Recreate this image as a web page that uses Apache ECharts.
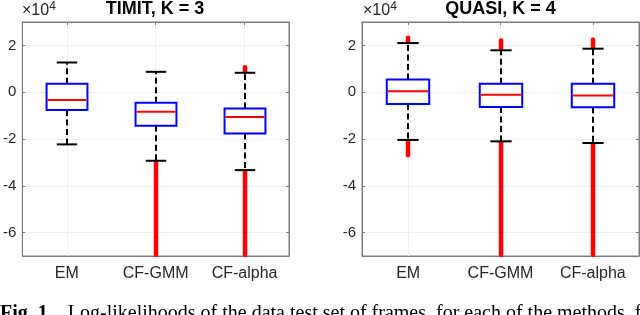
<!DOCTYPE html>
<html>
<head>
<meta charset="utf-8">
<script src="https://cdn.jsdelivr.net/npm/echarts@6/dist/echarts.min.js"></script>
<style>
html,body{margin:0;padding:0;background:#fff;}
#chart{width:640px;height:315px;}
</style>
</head>
<body>
<div id="chart"></div>
<script>
// ---- data (values in units of 1e4) ----
const categories = ['EM', 'CF-GMM', 'CF-alpha'];
const yTicks = [-6, -4, -2, 0, 2];
const yMin = -7, yMax = 3;
const titles = ['TIMIT, K = 3', 'QUASI, K = 4'];
// [lowerWhisker, Q1, median, Q3, upperWhisker]
const timitBox = [
  [-2.23, -0.76, -0.33, 0.36, 1.27],
  [-2.93, -1.43, -0.84, -0.45, 0.87],
  [-3.33, -1.77, -1.06, -0.70, 0.83]
];
const quasiBox = [
  [-2.04, -0.50, 0.04, 0.54, 2.10],
  [-2.10, -0.63, -0.11, 0.36, 1.79],
  [-2.17, -0.64, -0.14, 0.36, 1.86]
];
// outlier bands [categoryIndex, low, high]
const timitOutliers = [
  [1, -7, -2.93],
  [2, -7, -3.33],
  [2, 0.83, 1.12]
];
const quasiOutliers = [
  [0, -2.75, -2.04],
  [0, 2.10, 2.38],
  [1, -7, -2.10],
  [1, 1.79, 2.26],
  [2, -7, -2.17],
  [2, 1.86, 2.30]
];
const caption = 'Log-likelihoods of the data test set of frames, for each of the methods, formed';

// ---- chart ----
const chart = echarts.init(document.getElementById('chart'), null, {renderer: 'canvas'});
const frame = '#7a7a7a';
const textColor = '#262626';
const gridLayout = [
  {left: 21, top: 22, width: 268, height: 234},
  {left: 362, top: 22, width: 277, height: 234}
];

function boxRender(params, api) {
  const x = api.value(0);
  const pMin = api.coord([x, api.value(1)]);
  const pQ1 = api.coord([x, api.value(2)]);
  const pMed = api.coord([x, api.value(3)]);
  const pQ3 = api.coord([x, api.value(4)]);
  const pMax = api.coord([x, api.value(5)]);
  const bw = api.size([1, 0])[0] * 0.46;
  const cx = Math.round(pMed[0]);
  const cw = bw * 0.25;
  const dashStyle = {stroke: '#000', lineWidth: 2, lineDash: [6, 3.5], fill: null};
  const solid = {stroke: '#000', lineWidth: 2, fill: null};
  return {
    type: 'group',
    children: [
      {type: 'line', shape: {x1: cx, y1: pQ3[1], x2: cx, y2: pMax[1]}, style: dashStyle},
      {type: 'line', shape: {x1: cx, y1: pQ1[1], x2: cx, y2: pMin[1]}, style: dashStyle},
      {type: 'line', shape: {x1: cx - cw, y1: pMax[1], x2: cx + cw, y2: pMax[1]}, style: solid},
      {type: 'line', shape: {x1: cx - cw, y1: pMin[1], x2: cx + cw, y2: pMin[1]}, style: solid},
      {type: 'rect', shape: {x: cx - bw / 2, y: pQ3[1], width: bw, height: pQ1[1] - pQ3[1]},
        style: {stroke: '#0000ff', lineWidth: 2, fill: '#fff'}},
      {type: 'line', shape: {x1: cx - bw / 2 + 1, y1: pMed[1], x2: cx + bw / 2 - 1, y2: pMed[1]},
        style: {stroke: '#ff0000', lineWidth: 2, fill: null}}
    ]
  };
}

function outlierRender(params, api) {
  const x = api.value(0);
  const lo = api.coord([x, api.value(1)]);
  const hi = api.coord([x, api.value(2)]);
  const w = 4.5;
  const cx = Math.round(lo[0]);
  return {
    type: 'rect',
    shape: {x: cx - w / 2, y: hi[1] - 1, width: w, height: lo[1] - hi[1] + 2, r: 2},
    style: {fill: '#ff0000'}
  };
}

const xAxes = [], yAxes = [], series = [], graphics = [];
[timitBox, quasiBox].forEach((boxes, gi) => {
  const outl = gi === 0 ? timitOutliers : quasiOutliers;
  xAxes.push({
    type: 'category', gridIndex: gi, data: categories, position: 'bottom', boundaryGap: true,
    axisLine: {onZero: false, lineStyle: {color: frame, width: 1}},
    axisTick: {inside: true, length: 3, alignWithLabel: true, lineStyle: {color: frame}},
    axisLabel: {color: textColor, fontSize: 16, fontFamily: 'Liberation Sans, Arial', margin: 10},
    splitLine: {show: false}
  });
  xAxes.push({
    type: 'category', gridIndex: gi, data: categories, position: 'top', boundaryGap: true,
    axisLine: {show: true, onZero: false, lineStyle: {color: frame, width: 1}},
    axisTick: {show: true, inside: true, length: 3, alignWithLabel: true, lineStyle: {color: frame}},
    axisLabel: {show: false}, splitLine: {show: false}
  });
  yAxes.push({
    type: 'value', gridIndex: gi, min: yMin, max: yMax, position: 'left',
    axisLine: {show: true, onZero: false, lineStyle: {color: frame, width: 1}},
    axisTick: {show: true, inside: true, length: 3, customValues: yTicks, lineStyle: {color: frame}},
    axisLabel: {color: textColor, fontSize: 15, fontFamily: 'Liberation Sans, Arial', margin: 6, customValues: yTicks},
    splitLine: {show: false}
  });
  yAxes.push({
    type: 'value', gridIndex: gi, min: yMin, max: yMax, position: 'right',
    axisLine: {show: true, onZero: false, lineStyle: {color: frame, width: 1}},
    axisTick: {show: true, inside: true, length: 3, customValues: yTicks, lineStyle: {color: frame}},
    axisLabel: {show: false}, splitLine: {show: false}
  });
  // faint grid lines
  series.push({
    type: 'line', xAxisIndex: gi * 2, yAxisIndex: gi * 2, data: [], silent: true, z: 0,
    markLine: {
      silent: true, symbol: 'none', label: {show: false}, animation: false, z: 0,
      lineStyle: {color: '#efefef', width: 1, type: 'solid'},
      data: yTicks.map(v => ({yAxis: v})).concat(categories.map(c => ({xAxis: c})))
    }
  });
  series.push({
    type: 'custom', xAxisIndex: gi * 2, yAxisIndex: gi * 2, z: 2,
    renderItem: outlierRender,
    data: outl,
    encode: {x: 0, y: [1, 2]}
  });
  series.push({
    type: 'custom', xAxisIndex: gi * 2, yAxisIndex: gi * 2, z: 3,
    renderItem: boxRender,
    data: boxes.map((b, i) => [i].concat(b)),
    encode: {x: 0, y: [1, 2, 3, 4, 5]}
  });
  const g = gridLayout[gi];
  graphics.push({
    type: 'text', x: g.left + g.width / 2, y: 0,
    style: {text: titles[gi], font: 'bold 18px "Liberation Sans", Arial', fill: '#000', align: 'center'}
  });
  graphics.push({
    type: 'text', x: g.left + 1, y: 1,
    style: {
      text: '×10{s|4}', fill: textColor,
      font: '16px "Liberation Sans", Arial',
      rich: {s: {fontSize: 12, verticalAlign: 'top', padding: [0, 0, 8, 0], fill: textColor}}
    }
  });
});
graphics.push({
  type: 'text', x: 0, y: 304,
  style: {
    text: '{b|Fig. 1.}   ' + caption,
    font: '20px "Liberation Serif", "Times New Roman"', fill: '#000',
    rich: {b: {fontWeight: 'bold', fontSize: 20, fontFamily: 'Liberation Serif'}}
  }
});

chart.setOption({
  animation: false,
  backgroundColor: '#fff',
  grid: gridLayout.map(g => Object.assign({show: true, borderColor: frame, borderWidth: 1, backgroundColor: 'transparent', containLabel: false}, g)),
  xAxis: xAxes,
  yAxis: yAxes,
  series: series,
  graphic: graphics
});
</script>
</body>
</html>
